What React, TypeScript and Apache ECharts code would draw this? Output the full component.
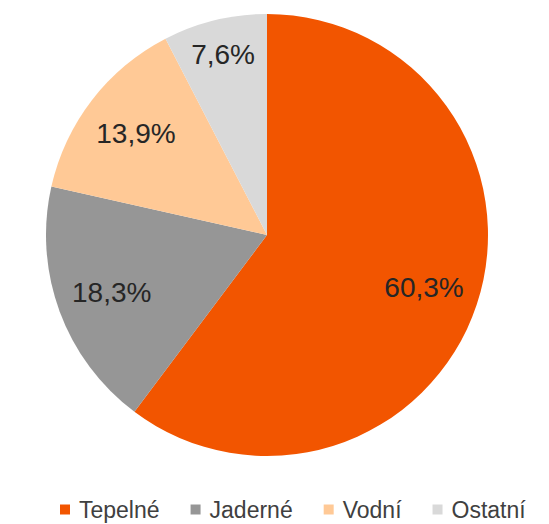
import React, { useEffect, useRef } from "react";
import * as echarts from "echarts";

const categories = ["Tepelné", "Jaderné", "Vodní", "Ostatní"];
const values = [60.3, 18.3, 13.9, 7.6];
const colors = ["#F25500", "#969696", "#FFC996", "#D9D9D9"];
// which label sits on the outer label ring (small slice near the top)
const outerLabel = [false, false, false, true];

const FONT = "Liberation Sans, Arial, sans-serif";

export default function App() {
  const ref = useRef<HTMLDivElement>(null);
  useEffect(() => {
    const chart = echarts.init(ref.current!, null, { renderer: "svg" });
    const data = categories.map((name, i) => ({
      name,
      value: values[i],
      itemStyle: { color: colors[i] },
    }));
    const labelStyle = {
      show: true,
      position: "inside",
      fontFamily: FONT,
      fontSize: 28,
      color: "#262626",
      formatter: (p: any) => String(p.value).replace(".", ",") + "%",
    };
    const labelData = (outer: boolean) =>
      categories.map((name, i) => ({
        name,
        value: values[i],
        label: { show: outerLabel[i] === outer },
      }));
    chart.setOption({
      animation: false,
      legend: {
        data: categories,
        left: 55,
        top: 493,
        icon: "rect",
        itemWidth: 10,
        itemHeight: 10,
        itemGap: 31,
        textStyle: {
          fontFamily: FONT,
          fontSize: 23,
          color: "#404040",
          padding: [0, 0, 0, 4],
        },
        selectedMode: false,
      },
      series: [
        {
          type: "pie",
          center: [267, 235],
          radius: [0, 221],
          startAngle: 90,
          clockwise: true,
          silent: true,
          label: { show: false },
          labelLine: { show: false },
          data,
        },
        {
          type: "pie",
          center: [267, 235],
          radius: [104, 221],
          startAngle: 90,
          clockwise: true,
          silent: true,
          itemStyle: { color: "transparent" },
          label: labelStyle,
          labelLine: { show: false },
          data: labelData(false),
        },
        {
          type: "pie",
          center: [267, 235],
          radius: [145, 221],
          startAngle: 90,
          clockwise: true,
          silent: true,
          itemStyle: { color: "transparent" },
          label: labelStyle,
          labelLine: { show: false },
          data: labelData(true),
        },
      ],
    });
    return () => chart.dispose();
  }, []);
  return (
    <div
      ref={ref}
      style={{ position: "fixed", left: 0, top: 0, width: 549, height: 524, background: "#fff" }}
    />
  );
}
